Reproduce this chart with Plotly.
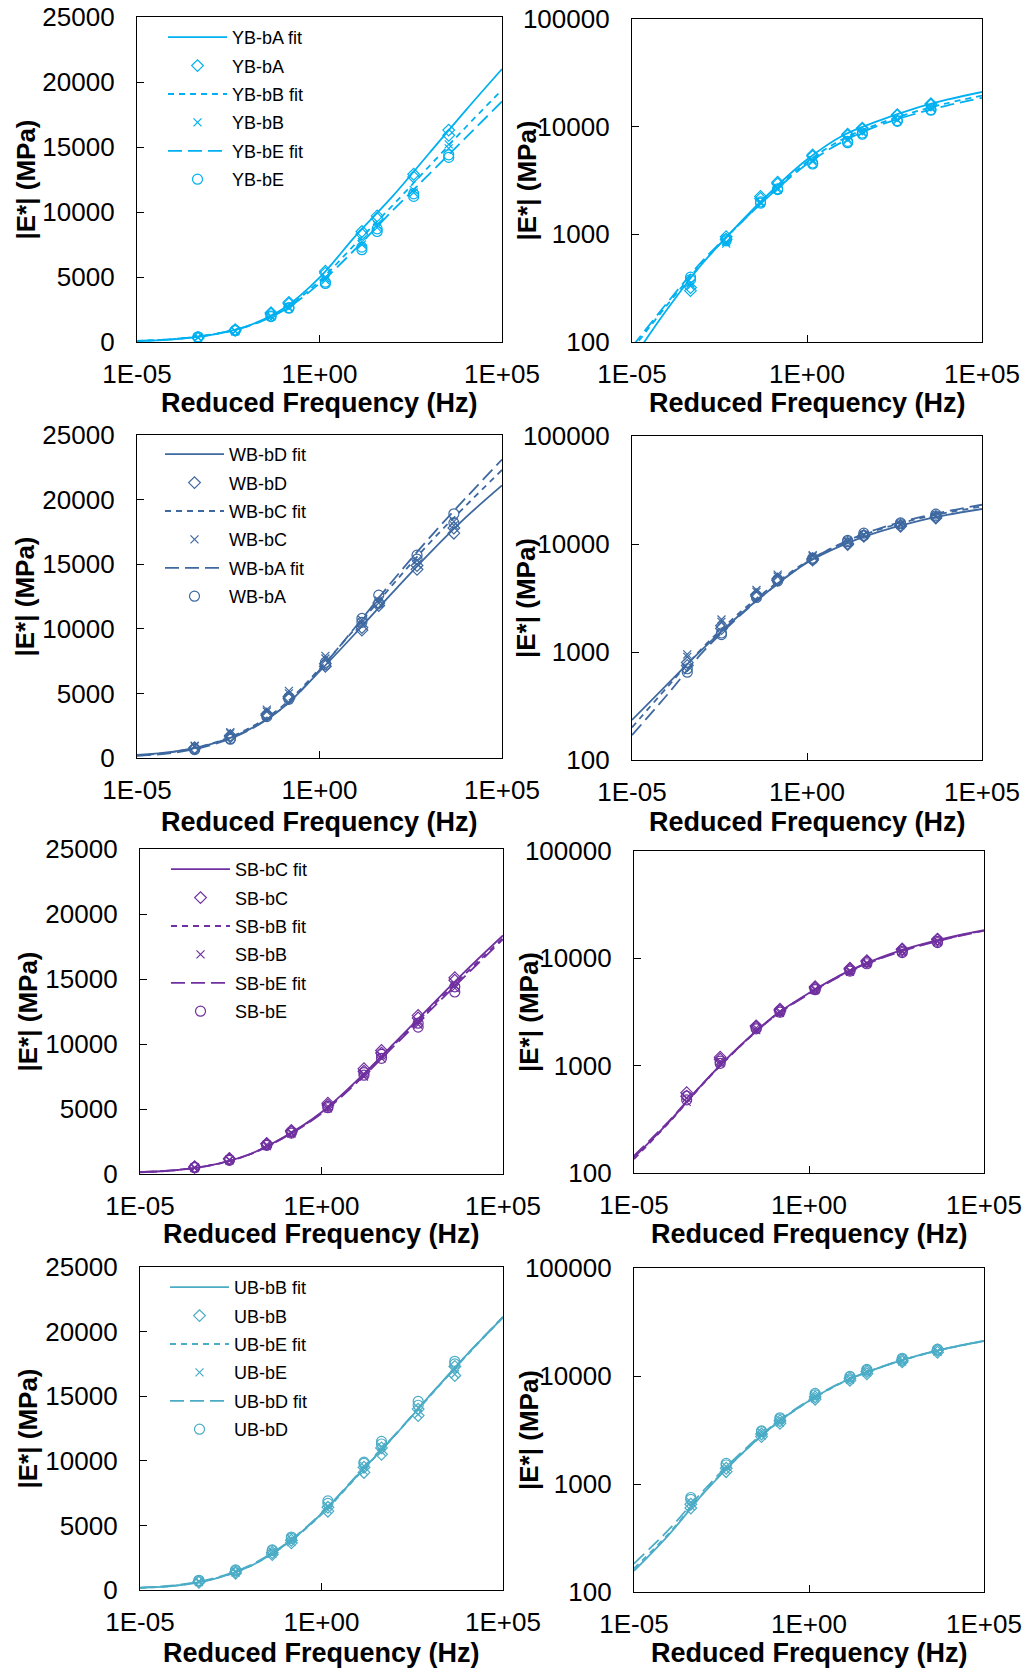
import plotly.graph_objects as go

# Reduced frequencies (Hz) at which the master-curve fits are listed
fit_freq = [1e-5, 1e-4, 1e-3, 1e-2, 1e-1, 1, 10, 100, 1e3, 1e4, 1e5]

# ---- YB binder group (two replicates per mixture) ----
yb_freq = [4.7e-4, 4.9e-3, 4.7e-2, 0.145, 1.45, 14.5, 38, 380, 3470]
yb_ba = [320, 900, 2150, 2950, 5300, 8500, 9700, 12900, 16300]
yb_ba_r2 = [300, 950, 2250, 3050, 5450, 8300, 9500, 12700, 15900]
yb_bb = [350, 850, 2000, 2700, 4900, 7700, 9000, 11700, 15200]
yb_bb_r2 = [330, 820, 1950, 2600, 4750, 7500, 8800, 11500, 14900]
yb_be = [380, 900, 2000, 2650, 4600, 7300, 8700, 11400, 14400]
yb_be_r2 = [400, 870, 1950, 2600, 4500, 7100, 8500, 11200, 14200]
yb_ba_fit = [68, 200, 530, 1200, 2550, 4950, 8200, 11200, 14500, 17800, 21000]
yb_bb_fit = [85, 220, 540, 1180, 2450, 4700, 7600, 10500, 13500, 16500, 19400]
yb_be_fit = [90, 230, 560, 1180, 2400, 4500, 7200, 10100, 12900, 15700, 18500]

# ---- WB binder group ----
wb_freq = [3.8e-4, 3.6e-3, 3.6e-2, 0.145, 1.45, 14.5, 42, 470, 4800]
wb_bd = [750, 1650, 3300, 4600, 7100, 9900, 11800, 14600, 17400]
wb_bd_r2 = [800, 1750, 3400, 4750, 7300, 10100, 12000, 14900, 17800]
wb_bc = [900, 1900, 3600, 5000, 7700, 10500, 12000, 15000, 18000]
wb_bc_r2 = [950, 2000, 3750, 5200, 7900, 10700, 12200, 15300, 18300]
wb_ba = [700, 1500, 3300, 4700, 7400, 10800, 12600, 15700, 18900]
wb_ba_r2 = [650, 1450, 3200, 4550, 7200, 10500, 12000, 15400, 18200]
wb_bd_fit = [235, 500, 1050, 2100, 3900, 6700, 9700, 12800, 15800, 18600, 21100]
wb_bc_fit = [200, 470, 1080, 2200, 4050, 6900, 10100, 13400, 16600, 19500, 22300]
wb_ba_fit = [170, 400, 980, 2050, 3900, 6800, 10200, 13700, 17000, 20100, 23100]

# ---- SB binder group ----
sb_freq = [3.2e-4, 2.9e-3, 3.1e-2, 0.148, 1.5, 14.8, 45, 460, 4700]
sb_bc = [520, 1150, 2300, 3250, 5300, 7900, 9300, 12000, 14900]
sb_bc_r2 = [560, 1200, 2350, 3350, 5450, 8100, 9500, 12200, 15100]
sb_bb = [500, 1100, 2250, 3200, 5200, 7700, 9100, 11700, 14500]
sb_bb_r2 = [460, 1050, 2150, 3100, 5050, 7500, 8900, 11500, 14300]
sb_be = [480, 1050, 2200, 3150, 5100, 7600, 8900, 11300, 14000]
sb_be_r2 = [520, 1100, 2250, 3250, 5200, 7800, 9200, 11600, 14400]
sb_bc_fit = [140, 300, 700, 1500, 2900, 4750, 7250, 10050, 12900, 15700, 18350]
sb_bb_fit = [135, 295, 690, 1480, 2870, 4700, 7200, 9950, 12750, 15500, 18150]
sb_be_fit = [145, 305, 700, 1490, 2850, 4650, 7100, 9850, 12600, 15350, 18050]

# ---- UB binder group ----
ub_freq = [4.2e-4, 4.3e-3, 4.4e-2, 0.148, 1.5, 14.8, 45, 460, 4700]
ub_bb = [650, 1400, 2900, 3850, 6400, 9500, 11000, 14000, 17300]
ub_bb_r2 = [600, 1300, 2750, 3650, 6100, 9100, 10500, 13500, 16600]
ub_be = [620, 1350, 2800, 3700, 6200, 9200, 10700, 13600, 16700]
ub_be_r2 = [680, 1450, 3000, 3950, 6500, 9600, 11100, 14100, 17100]
ub_bd = [750, 1550, 3100, 4100, 6700, 9800, 11300, 14300, 17500]
ub_bd_r2 = [720, 1500, 3050, 4000, 6900, 9900, 11500, 14600, 17700]
ub_bb_fit = [157, 340, 830, 1800, 3500, 5900, 8900, 11900, 15100, 18200, 21100]
ub_be_fit = [165, 350, 840, 1800, 3480, 5850, 8850, 11900, 15050, 18150, 21100]
ub_bd_fit = [183, 380, 880, 1870, 3550, 5950, 8950, 11950, 15100, 18200, 21150]

x_tickvals = [1e-5, 1, 1e5]
x_ticktext = ["1E-05", "1E+00", "1E+05"]
lin_tickvals = [0, 5000, 10000, 15000, 20000, 25000]
lin_ticktext = ["0", "5000", "10000", "15000", "20000", "25000"]
log_tickvals = [100, 1000, 10000, 100000]
log_ticktext = ["100", "1000", "10000", "100000"]

W, H = 1029, 1671

groups = [
    dict(color="#00b0f0", freq=yb_freq,
         series=[("YB-bA", [yb_ba, yb_ba_r2], yb_ba_fit),
                 ("YB-bB", [yb_bb, yb_bb_r2], yb_bb_fit),
                 ("YB-bE", [yb_be, yb_be_r2], yb_be_fit)],
         left=(137, 502, 17, 342), right=(632, 982, 19, 342),
         legend=(163, 19), ytitle=(25, 527), xtitle_y=403),
    dict(color="#3e68a0", freq=wb_freq,
         series=[("WB-bD", [wb_bd, wb_bd_r2], wb_bd_fit),
                 ("WB-bC", [wb_bc, wb_bc_r2], wb_bc_fit),
                 ("WB-bA", [wb_ba, wb_ba_r2], wb_ba_fit)],
         left=(137, 502, 435, 758), right=(632, 982, 436, 760),
         legend=(160, 436), ytitle=(24, 526), xtitle_y=822),
    dict(color="#7030a0", freq=sb_freq,
         series=[("SB-bC", [sb_bc, sb_bc_r2], sb_bc_fit),
                 ("SB-bB", [sb_bb, sb_bb_r2], sb_bb_fit),
                 ("SB-bE", [sb_be, sb_be_r2], sb_be_fit)],
         left=(140, 503, 849, 1174), right=(634, 984, 851, 1173),
         legend=(166, 851), ytitle=(27, 529), xtitle_y=1234),
    dict(color="#4bacc6", freq=ub_freq,
         series=[("UB-bB", [ub_bb, ub_bb_r2], ub_bb_fit),
                 ("UB-bE", [ub_be, ub_be_r2], ub_be_fit),
                 ("UB-bD", [ub_bd, ub_bd_r2], ub_bd_fit)],
         left=(140, 503, 1267, 1590), right=(634, 984, 1268, 1592),
         legend=(165, 1269), ytitle=(27, 529), xtitle_y=1653),
]

dashes = ["solid", "6px,5px", "14px,6px"]
symbols = ["diamond-open", "x-thin-open", "circle-open"]
msizes = [9, 8, 10]

FONT = "Liberation Sans, Arial, sans-serif"

fig = go.Figure()
layout = dict(
    template="none",
    width=W, height=H, margin=dict(l=0, r=0, t=0, b=0, pad=0, autoexpand=False),
    paper_bgcolor="white", plot_bgcolor="white",
    font=dict(family=FONT, color="black"),
    annotations=[],
)


def px_domain_x(a, b):
    return [a / W, b / W]


def px_domain_y(top, bottom):
    return [1 - bottom / H, 1 - top / H]


axis_common = dict(
    showline=True, mirror=True, linecolor="black", linewidth=1.3,
    ticks="inside", ticklen=7, tickwidth=1.3, tickcolor="black",
    showgrid=False, zeroline=False, automargin=False,
    tickfont=dict(family=FONT, size=26, color="black"),
)

for gi, g in enumerate(groups):
    legend_name = "legend" if gi == 0 else f"legend{gi + 1}"
    for side in ("left", "right"):
        k = gi * 2 + (1 if side == "left" else 2)
        xa = "x" if k == 1 else f"x{k}"
        ya = "y" if k == 1 else f"y{k}"
        l, r, t, b = g[side]
        for si, (name, reps, fit) in enumerate(g["series"]):
            fig.add_trace(go.Scatter(
                x=fit_freq, y=fit, mode="lines", name=f"{name} fit",
                line=dict(color=g["color"], width=1.8, dash=dashes[si], shape="spline"),
                xaxis=xa, yaxis=ya, legend=legend_name, legendgroup=f"{name} fit",
                showlegend=(side == "left"),
            ))
            fig.add_trace(go.Scatter(
                x=g["freq"] * len(reps), y=[v for rep in reps for v in rep],
                mode="markers", name=name,
                marker=dict(symbol=symbols[si], size=msizes[si], color=g["color"],
                            line=dict(color=g["color"], width=1.2)),
                xaxis=xa, yaxis=ya, legend=legend_name, legendgroup=name,
                showlegend=(side == "left"),
            ))
        xkey = "xaxis" if k == 1 else f"xaxis{k}"
        ykey = "yaxis" if k == 1 else f"yaxis{k}"
        layout[xkey] = dict(
            axis_common, type="log", range=[-5, 5], domain=px_domain_x(l, r), anchor=ya,
            tickvals=x_tickvals, ticktext=x_ticktext, ticklabelstandoff=9,
        )
        if side == "left":
            layout[ykey] = dict(
                axis_common, type="linear", range=[0, 25000], domain=px_domain_y(t, b), anchor=xa,
                tickvals=lin_tickvals, ticktext=lin_ticktext, ticklabelstandoff=16,
            )
        else:
            layout[ykey] = dict(
                axis_common, type="log", range=[2, 5], domain=px_domain_y(t, b), anchor=xa,
                tickvals=log_tickvals, ticktext=log_ticktext, ticklabelstandoff=16,
            )
        # axis titles
        ty_x = g["ytitle"][0] if side == "left" else g["ytitle"][1]
        layout["annotations"].append(dict(
            text="<b>|E*| (MPa)</b>", textangle=-90, xref="paper", yref="paper",
            x=ty_x / W, y=1 - ((t + b) / 2) / H, xanchor="center", yanchor="middle",
            showarrow=False, font=dict(family=FONT, size=26, color="black"),
        ))
        layout["annotations"].append(dict(
            text="<b>Reduced Frequency (Hz)</b>", xref="paper", yref="paper",
            x=((l + r) / 2) / W, y=1 - g["xtitle_y"] / H, xanchor="center", yanchor="middle",
            showarrow=False, font=dict(family=FONT, size=27, color="black"),
        ))
    lx, ly = g["legend"]
    layout[legend_name] = dict(
        x=lx / W, y=1 - ly / H, xanchor="left", yanchor="top",
        bgcolor="rgba(0,0,0,0)", borderwidth=0,
        font=dict(family=FONT, size=18, color="black"),
        itemwidth=59, traceorder="grouped", tracegroupgap=2,
    )

fig.update_layout(**layout)
fig.write_html("out.html")
